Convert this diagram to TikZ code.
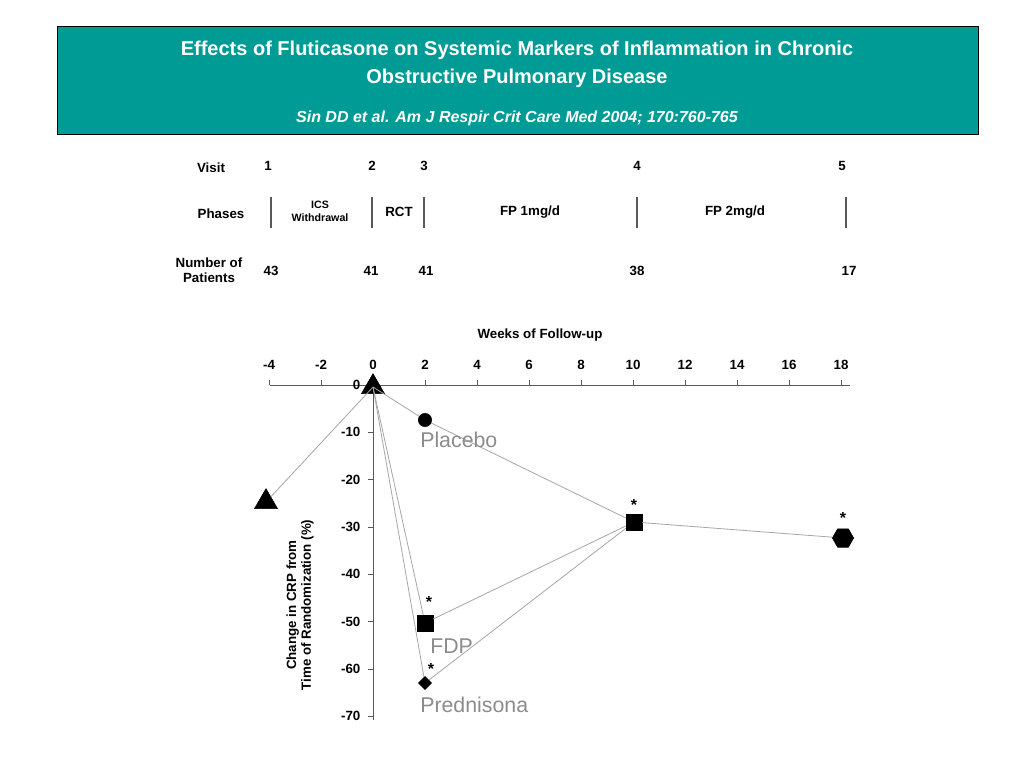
\documentclass[tikz,border=0pt]{standalone}
\usepackage{fontspec}
\setmainfont{Liberation Sans}
\usetikzlibrary{shapes.geometric}
\definecolor{teal1}{HTML}{009B95}
\tikzset{x=0.75pt,y=-0.75pt,
 tb/.style={font=\bfseries\fontsize{10}{11}\selectfont,align=center,inner sep=1pt},
 bar/.style={line width=0.8pt,gray!70!black},
 ln/.style={gray!70,line width=0.6pt},
 lab/.style={text=gray!90,font=\fontsize{16}{18}\selectfont,anchor=west,inner sep=0pt},
 ast/.style={font=\bfseries\fontsize{12}{12}\selectfont,inner sep=0pt},
 mk/.style={fill=black,draw=black,inner sep=0pt}}
\begin{document}
\begin{tikzpicture}
\useasboundingbox (0,0) rectangle (1024,768);
\fill[white] (0,0) rectangle (1024,768);
\node[draw=black,fill=teal1,minimum width=921*0.75pt,minimum height=108*0.75pt,anchor=north west,inner sep=0pt] (hdr) at (57,26) {};
\node[text=white,font=\bfseries\fontsize{15}{21}\selectfont,align=center] (t1) at (517,64) {Effects of Fluticasone on Systemic Markers of Inflammation in Chronic\\Obstructive Pulmonary Disease};
\node[text=white,font=\bfseries\itshape\fontsize{12}{14}\selectfont] (t2) at (517,118) {Sin DD et al. Am J Respir Crit Care Med 2004; 170:760-765};
% table
\node[tb] (visit) at (211,168) {Visit};
\foreach \x/\t [count=\i] in {268/1,372/2,424/3,637/4,842/5} \node[tb] (v\i) at (\x,166) {\t};
\node[tb] (ph) at (221,214) {Phases};
\foreach \x [count=\i] in {271,372,424,637,846} \draw[bar] (\x,197) -- (\x,228);
\node[tb,font=\bfseries\fontsize{8}{10}\selectfont] (ics) at (320,211) {ICS\\Withdrawal};
\node[tb] (rct) at (399,212) {RCT};
\node[tb] (fp1) at (530,212) {FP 1mg/d};
\node[tb] (fp2) at (735,212) {FP 2mg/d};
\node[tb] (np) at (209,270) {Number of\\Patients};
\foreach \x/\t [count=\i] in {271/43,371/41,426/41,637/38,849/17} \node[tb] (n\i) at (\x,271) {\t};
% axes
\node[tb] (wk) at (540,335) {Weeks of Follow-up};
\draw[gray!70!black,line width=0.6pt] (270,385) -- (850,385);
\draw[gray!70!black,line width=0.6pt] (373,385) -- (373,720);
\foreach \w in {-4,-2,...,18} {
  \draw[gray!70!black] ({373+26*\w},385) -- ({373+26*\w},380);
  \node[tb] at ({373+26*\w},365) {\w};}
\foreach \v in {0,-10,...,-70} {
  \draw[gray!70!black] (373,{385-4.73*\v}) -- (368,{385-4.73*\v});
  \node[tb,anchor=east] at (362,{385-4.73*\v}) {\v};}
\node[tb,rotate=90] (yl) at (300,605) {Change in CRP from\\Time of Randomization (\%)};
% data
\node[mk,regular polygon,regular polygon sides=3,minimum size=20pt] (a0) at (373,387) {};
\node[mk,regular polygon,regular polygon sides=3,minimum size=20pt] (am) at (266,502) {};
\node[mk,circle,minimum size=10pt] (pl) at (425,420) {};
\node[mk,minimum size=12pt] (s10) at (634,522) {};
\node[mk,regular polygon,regular polygon sides=6,minimum size=16pt] (hx) at (843,538) {};
\node[mk,minimum size=12pt] (s2) at (425,623) {};
\node[mk,diamond,minimum size=10pt] (dm) at (425,683) {};
\draw[ln] (a0.center) -- (am);
\draw[ln] (a0.center) -- (pl); \draw[ln] (a0.center) -- (s2); \draw[ln] (a0.center) -- (dm);
\draw[ln] (pl) -- (s10); \draw[ln] (s2) -- (s10); \draw[ln] (dm) -- (s10); \draw[ln] (s10) -- (hx);
\node[ast] at (634,505) {*};
\node[ast] at (843,518) {*};
\node[ast] at (429,602) {*};
\node[ast] at (431,669) {*};
\node[lab] (lp) at (420,440) {Placebo};
\node[lab] (lf) at (430,646) {FDP};
\node[lab] (lpr) at (420,705) {Prednisona};
\end{tikzpicture}
\end{document}
